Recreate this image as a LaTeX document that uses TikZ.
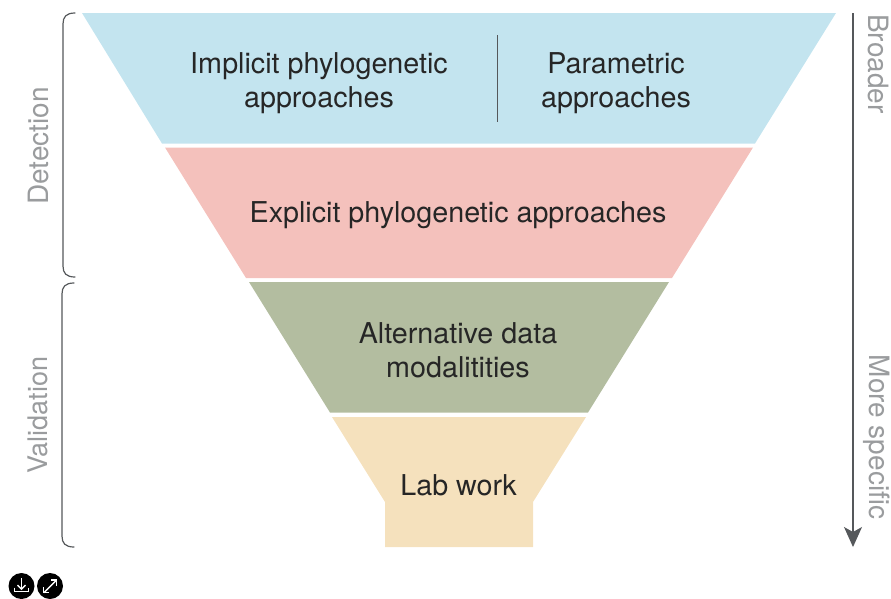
\documentclass[tikz,border=0pt]{standalone}
\usepackage{fontspec}
\setmainfont{TeX Gyre Heros}
\usetikzlibrary{arrows.meta}
\definecolor{tierblue}{HTML}{C3E4EF}
\definecolor{tierred}{HTML}{F4C1BC}
\definecolor{tiergreen}{HTML}{B3BDA0}
\definecolor{tiersand}{HTML}{F5E1BD}
\definecolor{sidegrey}{HTML}{9A9C9E}
\definecolor{darkline}{HTML}{55585B}
\definecolor{inktext}{HTML}{262626}
\tikzset{
  tier/.style={fill=#1,draw=none},
  maintext/.style={text=inktext,font=\fontsize{28.7}{34}\selectfont,align=center,inner sep=0pt},
  sidetext/.style={text=sidegrey,font=\fontsize{28}{30}\selectfont,inner sep=0pt},
  bracket/.style={draw=darkline,line width=1.2pt,line cap=round},
  iconline/.style={draw=white,line width=1.4pt}
}
\begin{document}
\begin{tikzpicture}[x=1pt,y=-1pt]
\useasboundingbox (0,0) rectangle (891,598);
\fill[tier=tierblue] (82,13) -- (836,13) -- (755,143.5) -- (162,143.5) -- cycle;
\fill[tier=tierred] (165,147.5) -- (753,147.5) -- (672,278) -- (246,278) -- cycle;
\fill[tier=tiergreen] (249,282) -- (669,282) -- (588,412.5) -- (330,412.5) -- cycle;
\fill[tier=tiersand] (332,417) -- (586,417) -- (533,502) -- (533,547) -- (385,547) -- (385,502) -- cycle;
\node[maintext] (implicit) at (319,83) {Implicit phylogenetic\\approaches};
\node[maintext] (parametric) at (616,83) {Parametric\\approaches};
\draw[draw=darkline,line width=1.2pt] (497.5,35) -- (497.5,122);
\node[maintext] (explicit) at (458,215) {Explicit phylogenetic approaches};
\node[maintext] (alternative) at (458,350) {Alternative data\\modalitities};
\node[maintext] (lab) at (458.5,485) {Lab work};
\node[sidetext,rotate=90] (detection) at (39,146) {Detection};
\node[sidetext,rotate=90,font=\fontsize{27}{30}\selectfont] (validation) at (37.5,415) {Validation};
\node[sidetext,rotate=-90] (broader) at (878,64) {Broader};
\node[sidetext,rotate=-90] (specific) at (876.5,437) {More specific};
\draw[bracket] (75,13) .. controls (66,13) and (63,17) .. (63,24) -- (63,266) .. controls (63,273) and (66,277) .. (75,277);
\draw[bracket] (74,283) .. controls (65,283) and (62,287) .. (62,294) -- (62,536) .. controls (62,543) and (65,547) .. (74,547);
\coordinate (arrowtop) at (853,13);
\coordinate (arrowend) at (853,547);
\draw[draw=darkline,line width=1.2pt,-{Stealth[length=20pt,width=18pt,inset=5pt]}] (arrowtop) -- (arrowend);
\fill[black] (21.5,586) circle (13);
\fill[black] (50,586) circle (13);
\draw[iconline] (21.5,578) -- (21.5,589);
\draw[iconline] (17.5,585) -- (21.5,589) -- (25.5,585);
\draw[iconline] (14.5,587.5) -- (14.5,591.5) -- (28.5,591.5) -- (28.5,587.5);
\draw[iconline] (44,592.5) -- (56,580.5);
\draw[iconline] (51,580) -- (56.5,580) -- (56.5,585.5);
\draw[iconline] (43.5,587) -- (43.5,592.5) -- (49,592.5);
\end{tikzpicture}
\end{document}
